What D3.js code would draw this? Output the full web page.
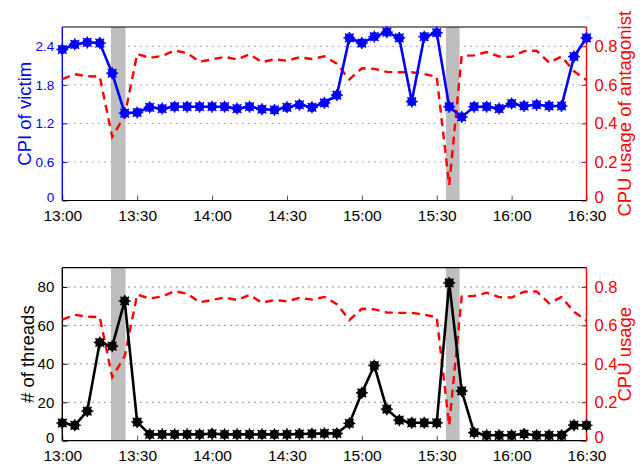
<!DOCTYPE html>
<html>
<head>
<meta charset="utf-8">
<script src="https://cdn.jsdelivr.net/npm/d3@7"></script>
<style>
  html, body { margin: 0; padding: 0; background: #fff; }
  svg { display: block; font-family: "Liberation Sans", Arial, Helvetica, sans-serif; }
</style>
</head>
<body>
<svg id="chart" width="642" height="464"></svg>
<script>
// Sampling times (5-minute samples)
const times = [
  "13:00","13:05","13:10","13:15","13:20","13:25","13:30","13:35","13:40","13:45",
  "13:50","13:55","14:00","14:05","14:10","14:15","14:20","14:25","14:30","14:35",
  "14:40","14:45","14:50","14:55","15:00","15:05","15:10","15:15","15:20","15:25",
  "15:30","15:35","15:40","15:45","15:50","15:55","16:00","16:05","16:10","16:15",
  "16:20","16:25","16:30"
];

// Cycles per instruction of the victim task
const cpiVictim = [
  2.35, 2.43, 2.46, 2.45, 1.98, 1.36, 1.37, 1.45, 1.43, 1.46,
  1.46, 1.46, 1.46, 1.46, 1.43, 1.46, 1.42, 1.41, 1.45, 1.49,
  1.45, 1.52, 1.64, 2.53, 2.45, 2.55, 2.62, 2.53, 1.54, 2.55,
  2.61, 1.46, 1.30, 1.46, 1.46, 1.43, 1.51, 1.47, 1.49, 1.47,
  1.47, 2.24, 2.53
];

// CPU usage of the antagonist
const cpuAntagonist = [
  0.630, 0.655, 0.645, 0.643, 0.330, 0.440, 0.760, 0.740, 0.750, 0.778,
  0.765, 0.720, 0.732, 0.745, 0.732, 0.758, 0.718, 0.732, 0.725, 0.743,
  0.734, 0.748, 0.710, 0.628, 0.686, 0.683, 0.667, 0.665, 0.665, 0.656,
  0.642, 0.080, 0.750, 0.753, 0.770, 0.747, 0.745, 0.775, 0.777, 0.715,
  0.747, 0.670, 0.625
];

// Number of antagonist threads
const threads = [
  9.2, 8.0, 15.4, 51.1, 49.2, 72.7, 9.7, 3.3, 3.3, 3.3,
  3.3, 3.3, 3.6, 3.3, 3.3, 3.3, 3.3, 3.3, 3.3, 3.5,
  3.6, 3.8, 3.8, 9.0, 24.9, 39.1, 16.4, 10.7, 9.3, 9.3,
  9.3, 82.1, 25.9, 4.2, 2.8, 2.8, 2.8, 3.5, 2.8, 2.8,
  2.8, 8.1, 8.0
];

// Throttling windows (shaded)
const throttleWindows = [["13:19:30", "13:25:20"], ["15:33:40", "15:39:10"]];

// Axis ticks
const timeTicks = ["13:00","13:30","14:00","14:30","15:00","15:30","16:00","16:30"];
const cpiTicks = [0, 0.6, 1.2, 1.8, 2.4];
const cpuTicks = [0, 0.2, 0.4, 0.6, 0.8];
const threadTicks = [0, 20, 40, 60, 80];

const toMin = s => {
  const p = s.split(":").map(Number);
  return (p[0] - 13) * 60 + p[1] + (p[2] || 0) / 60;
};

const svg = d3.select("#chart");
const left = 62.3, right = 586.5;
const x = d3.scaleLinear().domain([0, 210]).range([left, right]);

const BLUE = "#0000ff", RED = "#ff0000", BLACK = "#000000";

// filled circle with a small asterisk on top
function drawMarker(g, cx, cy, color) {
  g.append("circle").attr("cx", cx).attr("cy", cy).attr("r", 4.7).attr("fill", color);
  const a = 6.0, d = a * 0.72;
  const lines = [[-a, 0, a, 0], [0, -a, 0, a], [-d, -d, d, d], [-d, d, d, -d]];
  lines.forEach(l => g.append("line")
    .attr("x1", cx + l[0]).attr("y1", cy + l[1]).attr("x2", cx + l[2]).attr("y2", cy + l[3])
    .attr("stroke", color).attr("stroke-width", 1.4));
}

function panel(opts) {
  const { top, bottom, leftDomain, leftTicks, leftVals, leftColor, leftTickFont,
          leftTickFmt, leftLabel, leftLabelX, gridColor, rightLabel, rightTickColor } = opts;
  const g = svg.append("g");
  const yL = d3.scaleLinear().domain(leftDomain).range([bottom, top]);
  const yR = d3.scaleLinear().domain([0, 0.9]).range([bottom, top]);

  // grid
  g.append("g").selectAll("line").data(leftTicks.filter(t => t > 0)).join("line")
    .attr("x1", left).attr("x2", right)
    .attr("y1", d => yL(d)).attr("y2", d => yL(d))
    .attr("stroke", gridColor).attr("stroke-width", 1)
    .attr("stroke-dasharray", "1.3,4.7");

  // throttle windows
  g.append("g").selectAll("rect").data(throttleWindows).join("rect")
    .attr("x", d => x(toMin(d[0]))).attr("width", d => x(toMin(d[1])) - x(toMin(d[0])))
    .attr("y", top).attr("height", bottom - top)
    .attr("fill", "#bebebe");

  // x ticks (inward)
  const xAxis = d3.axisBottom(x).tickValues(timeTicks.map(toMin))
    .tickFormat((d, i) => timeTicks[i]).tickSizeInner(-5).tickSizeOuter(0).tickPadding(9);
  const xa = g.append("g").attr("transform", `translate(0,${bottom})`).call(xAxis);
  xa.select(".domain").remove();
  xa.selectAll(".tick line").attr("stroke", "#555");
  xa.selectAll(".tick text").attr("font-size", 15.5).attr("fill", BLACK)
    .attr("font-family", "Liberation Sans, Arial, sans-serif");

  // left ticks
  const lAxis = d3.axisLeft(yL).tickValues(leftTicks).tickFormat(leftTickFmt)
    .tickSizeInner(-5).tickSizeOuter(0).tickPadding(8);
  const la = g.append("g").attr("transform", `translate(${left},0)`).call(lAxis);
  la.select(".domain").remove();
  la.selectAll(".tick line").attr("stroke", leftColor);
  la.selectAll(".tick text").attr("font-size", leftTickFont).attr("fill", leftColor)
    .attr("font-family", "Liberation Sans, Arial, sans-serif");
  // the zero label sits just above the time labels
  la.selectAll(".tick text").filter(d => d === 0).attr("dy", "0.1em");

  // right ticks
  const rAxis = d3.axisRight(yR).tickValues(cpuTicks).tickFormat(d => d === 0 ? "0" : d3.format(".1f")(d))
    .tickSizeInner(-5).tickSizeOuter(0).tickPadding(8);
  const ra = g.append("g").attr("transform", `translate(${right},0)`).call(rAxis);
  ra.select(".domain").remove();
  ra.selectAll(".tick line").attr("stroke", rightTickColor);
  ra.selectAll(".tick text").attr("font-size", 16.5).attr("fill", RED)
    .attr("font-family", "Liberation Sans, Arial, sans-serif");
  ra.selectAll(".tick text").filter(d => d === 0).attr("dy", "0.12em");

  // frame
  g.append("line").attr("x1", left).attr("x2", right).attr("y1", top).attr("y2", top)
    .attr("stroke", BLACK).attr("stroke-width", 1.2);
  g.append("line").attr("x1", left).attr("x2", right).attr("y1", bottom).attr("y2", bottom)
    .attr("stroke", BLACK).attr("stroke-width", 1.2);
  g.append("line").attr("x1", left).attr("x2", left).attr("y1", top).attr("y2", bottom)
    .attr("stroke", leftColor).attr("stroke-width", 1.4);
  g.append("line").attr("x1", right).attr("x2", right).attr("y1", top).attr("y2", bottom)
    .attr("stroke", RED).attr("stroke-width", 1.4);

  // CPU usage (dashed)
  const cpuLine = d3.line().x((d, i) => x(toMin(times[i]))).y(d => yR(d));
  g.append("path").datum(cpuAntagonist).attr("d", cpuLine)
    .attr("fill", "none").attr("stroke", RED).attr("stroke-width", 2.4)
    .attr("stroke-dasharray", "8,5.5");

  // left series
  const lLine = d3.line().x((d, i) => x(toMin(times[i]))).y(d => yL(d));
  g.append("path").datum(leftVals).attr("d", lLine)
    .attr("fill", "none").attr("stroke", leftColor).attr("stroke-width", 2.6)
    .attr("stroke-linejoin", "round");
  const mg = g.append("g");
  leftVals.forEach((v, i) => drawMarker(mg, x(toMin(times[i])), yL(v), leftColor));

  // axis titles
  const mid = (top + bottom) / 2;
  g.append("text").attr("transform", `translate(${leftLabelX},${mid}) rotate(-90)`)
    .attr("text-anchor", "middle").attr("font-size", 18.5).attr("fill", leftColor)
    .text(leftLabel);
  g.append("text").attr("transform", `translate(631,${mid}) rotate(-90)`)
    .attr("text-anchor", "middle").attr("font-size", 18.5).attr("fill", RED)
    .text(rightLabel);
}

panel({
  top: 27, bottom: 200.5,
  leftDomain: [0, 2.7], leftTicks: cpiTicks, leftVals: cpiVictim,
  leftColor: BLUE, leftTickFont: 13.5, leftTickFmt: d => d === 0 ? "0" : d3.format(".1f")(d),
  leftLabel: "CPI of victim", leftLabelX: 31, gridColor: "#6f6fff",
  rightLabel: "CPU usage of antagonist", rightTickColor: "#b0104a"
});

panel({
  top: 267.7, bottom: 440.7,
  leftDomain: [0, 90], leftTicks: threadTicks, leftVals: threads,
  leftColor: BLACK, leftTickFont: 15, leftTickFmt: d => String(d),
  leftLabel: "# of threads", leftLabelX: 34, gridColor: "#555",
  rightLabel: "CPU usage", rightTickColor: "#a01818"
});
</script>
</body>
</html>
